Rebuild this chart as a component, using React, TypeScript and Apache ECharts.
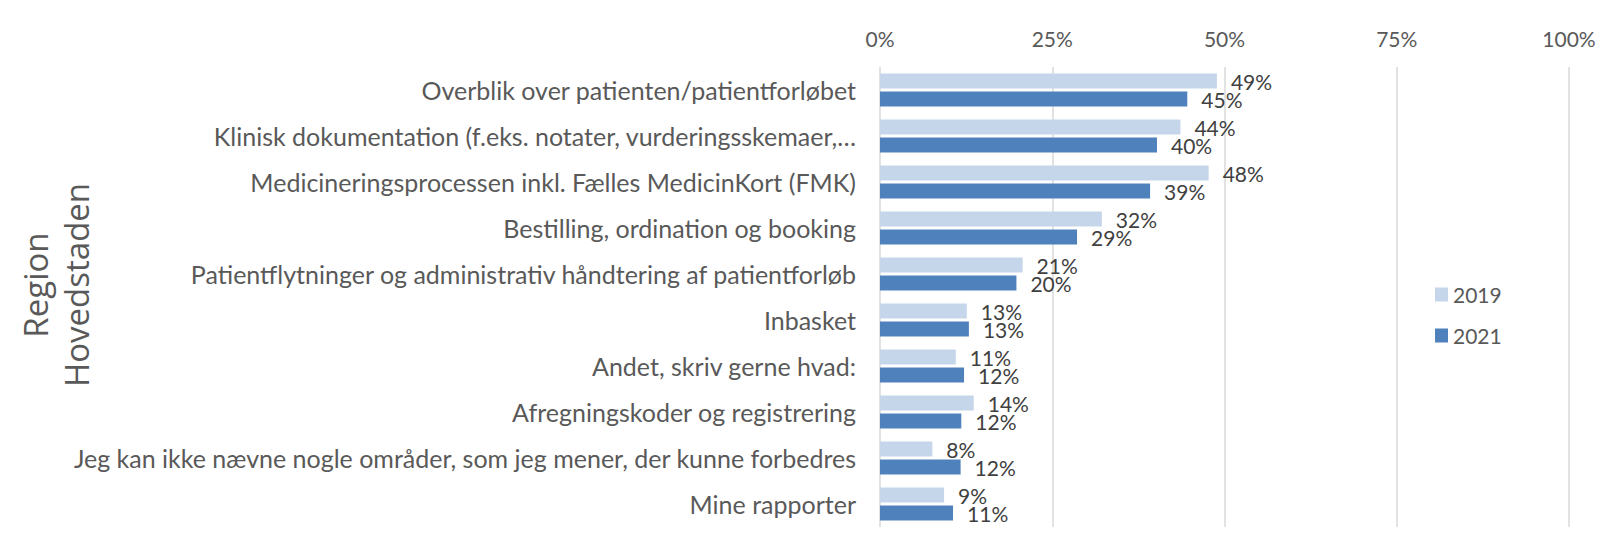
import React, { useEffect, useRef } from "react";
import * as echarts from "echarts";

const categories = [
  "Overblik over patienten/patientforløbet",
  "Klinisk dokumentation (f.eks. notater, vurderingsskemaer,…",
  "Medicineringsprocessen inkl. Fælles MedicinKort (FMK)",
  "Bestilling, ordination og booking",
  "Patientflytninger og administrativ håndtering af patientforløb",
  "Inbasket",
  "Andet, skriv gerne hvad:",
  "Afregningskoder og registrering",
  "Jeg kan ikke nævne nogle områder, som jeg mener, der kunne forbedres",
  "Mine rapporter",
];
const values2019 = [48.9, 43.6, 47.7, 32.2, 20.7, 12.6, 11.0, 13.6, 7.6, 9.3];
const values2021 = [44.6, 40.2, 39.2, 28.6, 19.8, 12.9, 12.2, 11.8, 11.7, 10.6];
const seriesNames = ["2019", "2021"];
const xTicks = { min: 0, max: 100, interval: 25 };
const axisTitle = "Region\nHovedstaden";

const FONT = "Lato";

export default function App() {
  const ref = useRef<HTMLDivElement>(null);
  useEffect(() => {
    if (!ref.current) return;
    const chart = echarts.init(ref.current, undefined, { renderer: "svg" });
    const label = {
      show: true,
      position: "right" as const,
      distance: 14,
      fontFamily: FONT,
      fontSize: 21,
      color: "#404040",
      formatter: (p: any) => Math.round(p.value) + "%",
    };
    chart.setOption({
      animation: false,
      backgroundColor: "#ffffff",
      textStyle: { fontFamily: FONT },
      grid: { left: 880, right: 41, top: 67, height: 460 },
      legend: {
        orient: "vertical",
        left: 1430,
        top: 279,
        itemWidth: 13,
        itemHeight: 14,
        itemGap: 20,
        icon: "rect",
        textStyle: { fontFamily: FONT, fontSize: 21, color: "#595959" },
        data: seriesNames,
      },
      xAxis: {
        type: "value",
        position: "top",
        min: xTicks.min,
        max: xTicks.max,
        interval: xTicks.interval,
        axisLine: { show: false },
        axisTick: { show: false },
        axisLabel: {
          formatter: "{value}%",
          fontFamily: FONT,
          fontSize: 21,
          color: "#595959",
          margin: 18,
        },
        splitLine: { show: true, lineStyle: { color: "#d9d9d9", width: 1.5 } },
      },
      yAxis: {
        type: "category",
        inverse: true,
        data: categories,
        axisLine: { show: false },
        axisTick: { show: false },
        axisLabel: {
          fontFamily: FONT,
          fontSize: 25,
          color: "#595959",
          margin: 24,
        },
      },
      series: [
        {
          name: seriesNames[0],
          type: "bar",
          data: values2019,
          barWidth: 15,
          barGap: "20%",
          itemStyle: { color: "#c5d5ea" },
          label,
        },
        {
          name: seriesNames[1],
          type: "bar",
          data: values2021,
          barWidth: 15,
          barGap: "20%",
          itemStyle: { color: "#4f81bd" },
          label,
        },
      ],
      graphic: [
        {
          type: "text",
          x: 56,
          y: 285,
          rotation: Math.PI / 2,
          style: {
            text: axisTitle,
            fontFamily: "Open Sans",
            fontSize: 33,
            lineHeight: 41,
            fill: "#595959",
            align: "center",
            verticalAlign: "middle",
          },
        },
      ],
    });
    return () => chart.dispose();
  }, []);
  return (
    <div
      ref={ref}
      style={{ position: "fixed", left: 0, top: 0, width: 1610, height: 546 }}
    />
  );
}
